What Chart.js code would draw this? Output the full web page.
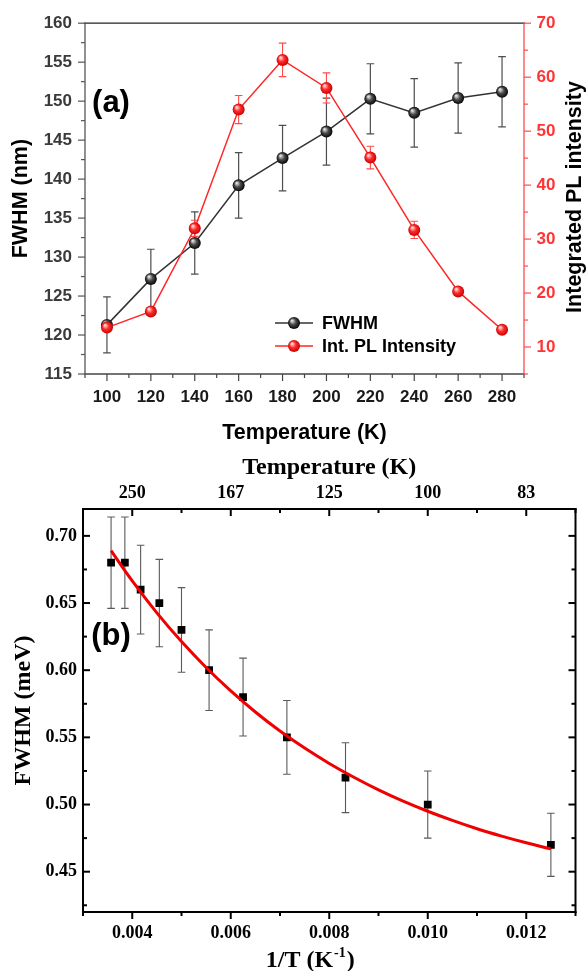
<!DOCTYPE html>
<html>
<head>
<meta charset="utf-8">
<script src="https://cdn.jsdelivr.net/npm/chart.js@4.4.0/dist/chart.umd.min.js"></script>
<style>
  html, body { margin: 0; padding: 0; background: #fff; }
  #wrap-a { position: absolute; left: 0; top: 0; width: 586px; height: 450px; }
  #wrap-b { position: absolute; left: 0; top: 450px; width: 586px; height: 521px; }
</style>
</head>
<body>
<div id="wrap-a"><canvas id="chart-a"></canvas></div>
<div id="wrap-b"><canvas id="chart-b"></canvas></div>
<script>
// Dados painel (a)
const tempK = [100, 120, 140, 160, 180, 200, 220, 240, 260, 280];
const fwhmNm = [121.3, 127.2, 131.8, 139.2, 142.7, 146.1, 150.3, 148.5, 150.4, 151.2];
const fwhmNmErr = [3.6, 3.8, 4.0, 4.2, 4.2, 4.3, 4.5, 4.4, 4.5, 4.5];
const plIntensity = [13.6, 16.6, 32.0, 54.0, 63.2, 58.0, 45.1, 31.7, 20.3, 13.2];
const plIntensityErr = [0.5, 0.5, 1.5, 2.6, 3.1, 2.8, 2.1, 1.6, 0.6, 0.3];

// Dados painel (b)
const invT = [0.00357, 0.00385, 0.00417, 0.00455, 0.005, 0.00556, 0.00625, 0.00714, 0.00833, 0.01, 0.0125];
const fwhmMeV = [0.68, 0.68, 0.66, 0.65, 0.63, 0.60, 0.58, 0.55, 0.52, 0.50, 0.47];
const fwhmMeVErr = [0.034, 0.034, 0.033, 0.0325, 0.0315, 0.03, 0.029, 0.0275, 0.026, 0.025, 0.0235];
const fitInvT = [0.00357, 0.004, 0.0045, 0.005, 0.0055, 0.006, 0.0065, 0.007, 0.0075, 0.008, 0.0085, 0.009, 0.0095, 0.010, 0.0105, 0.011, 0.0115, 0.012, 0.0125];
const fitFwhm = [0.689, 0.6665, 0.6427, 0.6213, 0.602, 0.5846, 0.5689, 0.5547, 0.542, 0.5306, 0.5203, 0.5109, 0.5025, 0.495, 0.4882, 0.482, 0.4765, 0.4715, 0.467];
const topTickPos = [0.004, 0.006, 0.008, 0.010, 0.012];
const topTickLabels = ["250", "167", "125", "100", "83"];

const SANS = "'Liberation Sans', Arial, sans-serif";
const SERIF = "'Liberation Serif', 'Times New Roman', serif";

// Utilitárias
function tickList(from, to, step) {
  const n = Math.round((to - from) / step);
  const out = [];
  for (let i = 0; i <= n; i++) out.push({ value: +(from + i * step).toFixed(6) });
  return out;
}

function isMajor(v, step) {
  const k = v / step;
  return Math.abs(k - Math.round(k)) < 1e-6;
}

function drawBall(ctx, x, y, r, colors) {
  const g = ctx.createRadialGradient(x - r * 0.35, y - r * 0.4, r * 0.1, x, y, r * 1.05);
  g.addColorStop(0, colors[0]);
  g.addColorStop(0.45, colors[1]);
  g.addColorStop(1, colors[2]);
  ctx.fillStyle = g;
  ctx.beginPath();
  ctx.arc(x, y, r, 0, Math.PI * 2);
  ctx.fill();
}

const BLACK_BALL = ["#e0e0e0", "#4a4a4a", "#000000"];
const RED_BALL = ["#ffd6d6", "#ff2a2a", "#c40000"];

// Plugins
const errorBars = {
  id: "errorBars",
  beforeDatasetDraw(chart, args) {
    const ds = chart.data.datasets[args.index];
    if (!ds.errors) return;
    const meta = args.meta;
    const ys = chart.scales[meta.yAxisID];
    const ctx = chart.ctx;
    const cap = ds.errorCap || 4;
    ctx.save();
    ctx.strokeStyle = ds.errorColor;
    ctx.lineWidth = ds.errorWidth || 1.2;
    meta.data.forEach((pt, j) => {
      const v = ds.data[j].y;
      const e = ds.errors[j];
      const top = ys.getPixelForValue(v + e);
      const bot = ys.getPixelForValue(v - e);
      ctx.beginPath();
      ctx.moveTo(pt.x, top);
      ctx.lineTo(pt.x, bot);
      ctx.moveTo(pt.x - cap, top);
      ctx.lineTo(pt.x + cap, top);
      ctx.moveTo(pt.x - cap, bot);
      ctx.lineTo(pt.x + cap, bot);
      ctx.stroke();
    });
    ctx.restore();
  },
  afterDatasetDraw(chart, args) {
    const ds = chart.data.datasets[args.index];
    if (!ds.ballColors) return;
    const ctx = chart.ctx;
    ctx.save();
    args.meta.data.forEach((pt) => drawBall(ctx, pt.x, pt.y, 6, ds.ballColors));
    ctx.restore();
  },
};

const frame = {
  id: "frame",
  afterDraw(chart, args, opts) {
    const { ctx, chartArea: a } = chart;
    ctx.save();
    ctx.lineCap = "butt";
    (opts.ticks || []).forEach((t) => {
      const sc = chart.scales[t.scale];
      ctx.strokeStyle = t.color;
      ctx.lineWidth = t.width;
      sc.ticks.forEach((tk) => {
        const len = tk.label !== "" ? t.major : t.minor;
        const sign = t.dir === "out" ? 1 : -1;
        const p = sc.getPixelForValue(tk.value);
        ctx.beginPath();
        if (t.side === "bottom") { ctx.moveTo(p, a.bottom); ctx.lineTo(p, a.bottom + sign * len); }
        if (t.side === "top") { ctx.moveTo(p, a.top); ctx.lineTo(p, a.top - sign * len); }
        if (t.side === "left") { ctx.moveTo(a.left, p); ctx.lineTo(a.left - sign * len, p); }
        if (t.side === "right") { ctx.moveTo(a.right, p); ctx.lineTo(a.right + sign * len, p); }
        ctx.stroke();
      });
    });
    (opts.lines || []).forEach((l) => {
      ctx.strokeStyle = l.color;
      ctx.lineWidth = l.width;
      const h = l.width / 2;
      ctx.beginPath();
      if (l.side === "bottom") { ctx.moveTo(a.left - h, a.bottom); ctx.lineTo(a.right + h, a.bottom); }
      if (l.side === "top") { ctx.moveTo(a.left - h, a.top); ctx.lineTo(a.right + h, a.top); }
      if (l.side === "left") { ctx.moveTo(a.left, a.top - h); ctx.lineTo(a.left, a.bottom + h); }
      if (l.side === "right") { ctx.moveTo(a.right, a.top - h); ctx.lineTo(a.right, a.bottom + h); }
      ctx.stroke();
    });
    (opts.texts || []).forEach((t) => {
      ctx.save();
      ctx.font = t.font;
      ctx.fillStyle = t.color || "#000";
      ctx.textAlign = "center";
      ctx.textBaseline = "middle";
      ctx.translate(t.x, t.y);
      if (t.rotate) ctx.rotate(t.rotate);
      ctx.fillText(t.text, 0, 0);
      ctx.restore();
    });
    ctx.restore();
  },
};

const ballLegend = {
  id: "ballLegend",
  afterDraw(chart, args, opts) {
    if (!opts.items) return;
    const ctx = chart.ctx;
    ctx.save();
    opts.items.forEach((it, i) => {
      const ds = chart.data.datasets[it.index];
      const y = opts.y + i * opts.gap;
      ctx.strokeStyle = ds.borderColor;
      ctx.lineWidth = 1.5;
      ctx.beginPath();
      ctx.moveTo(opts.x, y);
      ctx.lineTo(opts.x + 38, y);
      ctx.stroke();
      drawBall(ctx, opts.x + 19, y, 6, ds.ballColors);
      ctx.fillStyle = "#000";
      ctx.font = "bold 18px " + SANS;
      ctx.textAlign = "left";
      ctx.textBaseline = "middle";
      ctx.fillText(ds.label, opts.x + 47, y + 1);
    });
    ctx.restore();
  },
};

const invTTitle = {
  id: "invTTitle",
  afterDraw(chart) {
    const ctx = chart.ctx;
    const a = chart.chartArea;
    const big = "bold 24px " + SERIF;
    const small = "bold 14px " + SERIF;
    ctx.save();
    ctx.fillStyle = "#000";
    ctx.textAlign = "left";
    ctx.textBaseline = "alphabetic";
    ctx.font = big;
    const w1 = ctx.measureText("1/T (K").width;
    const w3 = ctx.measureText(")").width;
    ctx.font = small;
    const w2 = ctx.measureText("-1").width;
    let x = (a.left + a.right) / 2 - 20 - (w1 + w2 + w3) / 2;
    const y = a.bottom + 55;
    ctx.font = big;
    ctx.fillText("1/T (K", x, y);
    x += w1 + 1;
    ctx.font = small;
    ctx.fillText("-1", x, y - 10);
    x += w2 + 1;
    ctx.font = big;
    ctx.fillText(")", x, y);
    ctx.restore();
  },
};

function axisBase() {
  return {
    type: "linear",
    grid: { display: false, drawTicks: false },
    border: { display: false },
  };
}

// Painel (a)
const xA = axisBase();
Object.assign(xA, {
  min: 90, max: 290,
  afterBuildTicks: (s) => { s.ticks = tickList(90, 290, 10); },
  afterFit: (s) => { s.height = 76; },
  ticks: {
    autoSkip: false, maxRotation: 0, padding: 13, color: "#1a1a1a",
    font: { family: SANS, size: 17, weight: "bold" },
    callback: (v) => (isMajor(v, 20) ? String(v) : ""),
  },
  title: {
    display: true, text: "Temperature (K)", color: "#000",
    font: { family: SANS, size: 21.5, weight: "bold", lineHeight: 1.2 },
    padding: { top: 0, bottom: 4 },
  },
});

const yA = axisBase();
Object.assign(yA, {
  position: "left", min: 115, max: 160,
  afterBuildTicks: (s) => { s.ticks = tickList(115, 160, 2.5); },
  afterFit: (s) => { s.width = 85; },
  ticks: {
    autoSkip: false, padding: 13, color: "#3a3a3a",
    font: { family: SANS, size: 17, weight: "bold" },
    callback: (v) => (isMajor(v, 5) ? String(v) : ""),
  },
  title: {
    display: true, text: "FWHM (nm)", color: "#000",
    font: { family: SANS, size: 21.5, weight: "bold", lineHeight: 1.2 },
    padding: { top: 8, bottom: 0 },
  },
});

const y2A = axisBase();
Object.assign(y2A, {
  position: "right", min: 5, max: 70,
  afterBuildTicks: (s) => { s.ticks = tickList(5, 70, 5); },
  afterFit: (s) => { s.width = 62; },
  ticks: {
    autoSkip: false, padding: 12.5, color: "#ff3434",
    font: { family: SANS, size: 17, weight: "bold" },
    callback: (v) => (isMajor(v, 10) ? String(v) : ""),
  },
});

const chartA = new Chart(document.getElementById("chart-a"), {
  type: "line",
  data: {
    datasets: [
      {
        label: "FWHM",
        data: tempK.map((t, i) => ({ x: t, y: fwhmNm[i] })),
        errors: fwhmNmErr, errorColor: "#4d4d4d", errorWidth: 1.2, errorCap: 3.8,
        ballColors: BLACK_BALL,
        yAxisID: "y", order: 1,
        borderColor: "#333333", borderWidth: 1.5,
        pointRadius: 0, pointHoverRadius: 0,
      },
      {
        label: "Int. PL Intensity",
        data: tempK.map((t, i) => ({ x: t, y: plIntensity[i] })),
        errors: plIntensityErr, errorColor: "#ff4a4a", errorWidth: 1.1, errorCap: 3.8,
        ballColors: RED_BALL,
        yAxisID: "y2", order: 0,
        borderColor: "#ff2626", borderWidth: 1.5,
        pointRadius: 0, pointHoverRadius: 0,
      },
    ],
  },
  options: {
    animation: false,
    responsive: true,
    maintainAspectRatio: false,
    layout: { padding: { top: 21, left: 0, right: 0, bottom: 0 } },
    plugins: {
      legend: { display: false },
      tooltip: { enabled: false },
      frame: {
        ticks: [
          { scale: "x", side: "bottom", dir: "out", major: 7, minor: 4, color: "#444", width: 1.2 },
          { scale: "y", side: "left", dir: "out", major: 7, minor: 4, color: "#555", width: 1.2 },
          { scale: "y2", side: "right", dir: "out", major: 7, minor: 4, color: "#ff4a4a", width: 1.2 },
        ],
        lines: [
          { side: "top", color: "#222", width: 1.2 },
          { side: "bottom", color: "#444", width: 1.3 },
          { side: "left", color: "#555", width: 1.3 },
          { side: "right", color: "#ff4a4a", width: 1.3 },
        ],
        texts: [
          { text: "(a)", x: 111, y: 103, font: "bold 31px " + SANS },
          { text: "Integrated PL intensity", x: 575, y: 197, rotate: -Math.PI / 2, font: "bold 21.5px " + SANS },
        ],
      },
      ballLegend: {
        x: 275, y: 323, gap: 23,
        items: [{ index: 0 }, { index: 1 }],
      },
    },
    scales: { x: xA, y: yA, y2: y2A },
  },
  plugins: [errorBars, frame, ballLegend],
});

// Painel (b)
const xB = axisBase();
Object.assign(xB, {
  position: "bottom", min: 0.003, max: 0.013,
  afterBuildTicks: (s) => { s.ticks = tickList(0.003, 0.013, 0.001); },
  afterFit: (s) => { s.height = 59; },
  ticks: {
    autoSkip: false, maxRotation: 0, padding: 10.5, color: "#000",
    font: { family: SERIF, size: 18, weight: "bold" },
    callback: (v) => (isMajor(v, 0.002) ? v.toFixed(3) : ""),
  },
});

const x2B = axisBase();
Object.assign(x2B, {
  position: "top", min: 0.003, max: 0.013,
  afterBuildTicks: (s) => { s.ticks = tickList(0.003, 0.013, 0.001); },
  afterFit: (s) => { s.height = 59; },
  ticks: {
    autoSkip: false, maxRotation: 0, padding: 5, color: "#000",
    font: { family: SERIF, size: 18, weight: "bold" },
    callback: (v) => {
      const i = topTickPos.findIndex((p) => Math.abs(p - v) < 1e-7);
      return i >= 0 ? topTickLabels[i] : "";
    },
  },
  title: {
    display: true, text: "Temperature (K)", color: "#000",
    font: { family: SERIF, size: 24, weight: "bold", lineHeight: 1 },
    padding: { top: 6, bottom: 0 },
  },
});

const yB = axisBase();
Object.assign(yB, {
  position: "left", min: 0.42, max: 0.72,
  afterBuildTicks: (s) => { s.ticks = tickList(0.425, 0.7, 0.025); },
  afterFit: (s) => { s.width = 83; },
  ticks: {
    autoSkip: false, padding: 6, color: "#000",
    font: { family: SERIF, size: 18, weight: "bold" },
    callback: (v) => (isMajor(v, 0.05) ? v.toFixed(2) : ""),
  },
  title: {
    display: true, text: "FWHM (meV)", color: "#000",
    font: { family: SERIF, size: 24, weight: "bold", lineHeight: 1 },
    padding: { top: 12, bottom: 0 },
  },
});

const chartB = new Chart(document.getElementById("chart-b"), {
  type: "scatter",
  data: {
    datasets: [
      {
        label: "Fit",
        data: fitInvT.map((x, i) => ({ x: x, y: fitFwhm[i] })),
        yAxisID: "y", order: 0,
        showLine: true, borderColor: "#f00000", borderWidth: 3,
        tension: 0.4, pointRadius: 0, pointHoverRadius: 0,
      },
      {
        label: "FWHM",
        data: invT.map((x, i) => ({ x: x, y: fwhmMeV[i] })),
        errors: fwhmMeVErr, errorColor: "#5a5a5a", errorWidth: 1.1, errorCap: 3.8,
        yAxisID: "y", order: 1,
        pointStyle: "rect", pointRadius: 5.5, pointHoverRadius: 5.5,
        pointBackgroundColor: "#000", pointBorderWidth: 0,
      },
    ],
  },
  options: {
    animation: false,
    responsive: true,
    maintainAspectRatio: false,
    layout: { padding: { top: 0, left: 0, right: 2, bottom: 0 } },
    plugins: {
      legend: { display: false },
      tooltip: { enabled: false },
      frame: {
        ticks: [
          { scale: "x", side: "bottom", dir: "out", major: 7, minor: 4, color: "#000", width: 2 },
          { scale: "x", side: "top", dir: "in", major: 7, minor: 4, color: "#000", width: 2 },
          { scale: "y", side: "left", dir: "in", major: 7, minor: 4, color: "#000", width: 2 },
          { scale: "y", side: "right", dir: "in", major: 7, minor: 4, color: "#000", width: 2 },
        ],
        lines: [
          { side: "top", color: "#000", width: 2 },
          { side: "bottom", color: "#000", width: 2 },
          { side: "left", color: "#000", width: 2 },
          { side: "right", color: "#000", width: 2 },
        ],
        texts: [{ text: "(b)", x: 111, y: 186, font: "bold 31px " + SANS }],
      },
    },
    scales: { x: xB, x2: x2B, y: yB },
  },
  plugins: [errorBars, frame, invTTitle],
});
</script>
</body>
</html>
